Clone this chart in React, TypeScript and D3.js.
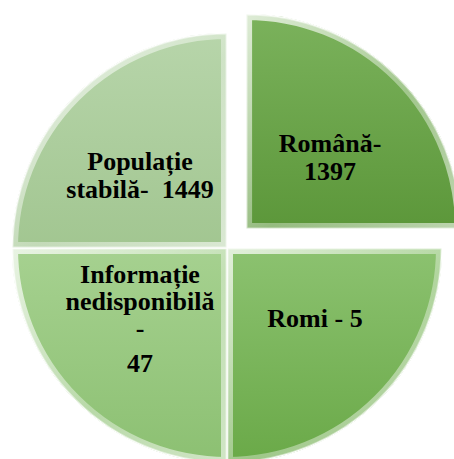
import React from "react";
import * as d3 from "d3";

// data
const labels = ["Română", "Romi", "Informație nedisponibilă", "Populație stabilă"];
const values = [1397, 5, 47, 1449];
const labelLines = [
  ["Română-", "1397"],
  ["Romi - 5"],
  ["Informație", "nedisponibilă", "-", "47"],
  ["Populație", "stabilă-\u00a0 1449"],
];

// look
const fills = [
  ["#7bb25c", "#5c973a"],
  ["#8cc270", "#6aa948"],
  ["#a6d190", "#8cc072"],
  ["#b7d5aa", "#a2c691"],
];
const explode = [27, 0, 0, 0];
const labelNudge = [
  [8, 4],
  [12, -6],
  [-11, -10],
  [-11, 3],
];
const lineGap = [28, 0, 27, 28];
const FONT = "Liberation Serif";

const W = 454;
const H = 459;
const R = 215;
const cx = 227;
const cy = 248;

const App = () => {
  const rows = labels.map((l, i) => ({ label: l, value: values[i], i }));
  // the original draws four equal quadrants, the values only live in the labels
  const pie = d3
    .pie<any>()
    .sort(null)
    .value(() => 1);
  const arcs = pie(rows);
  const arc = d3.arc<any>().innerRadius(0).outerRadius(R);

  return (
    <svg
      width={W}
      height={H}
      fontFamily={FONT}
      style={{ position: "absolute", left: 0, top: 0, background: "#ffffff", fontFamily: FONT }}
    >
      <defs>
        {arcs.map((a, i) => (
          <linearGradient key={"f" + i} id={"fill" + i} x1={0} y1={0} x2={0} y2={1}>
            <stop offset="0%" stopColor={fills[i][0]} />
            <stop offset="100%" stopColor={fills[i][1]} />
          </linearGradient>
        ))}
        {arcs.map((a, i) => (
          <clipPath key={"c" + i} id={"clip" + i}>
            <path d={arc(a) as string} />
          </clipPath>
        ))}
        <linearGradient id="bevel" x1={0} y1={0} x2={1} y2={1}>
          <stop offset="0%" stopColor="#ffffff" stopOpacity={0.75} />
          <stop offset="55%" stopColor="#ffffff" stopOpacity={0.35} />
          <stop offset="100%" stopColor="#ffffff" stopOpacity={0.6} />
        </linearGradient>
      </defs>
      {arcs.map((d, i) => {
        const mid = (d.startAngle + d.endAngle) / 2;
        const dx = cx + Math.sin(mid) * explode[i];
        const dy = cy - Math.cos(mid) * explode[i];
        const p = arc(d) as string;
        return (
          <g key={d.data.label} transform={"translate(" + dx + "," + dy + ")"}>
            <path d={p} fill={"url(#fill" + i + ")"} stroke="#ffffff" strokeWidth={1} />
            {/* bevel edge */}
            <path d={p} fill="none" clipPath={"url(#clip" + i + ")"} stroke="url(#bevel)" strokeWidth={12} />
            <path
              d={p}
              fill="none"
              clipPath={"url(#clip" + i + ")"}
              stroke="#ffffff"
              strokeOpacity={0.5}
              strokeWidth={3}
            />
          </g>
        );
      })}
      {arcs.map((d, i) => {
        const mid = (d.startAngle + d.endAngle) / 2;
        const dx = cx + Math.sin(mid) * explode[i];
        const dy = cy - Math.cos(mid) * explode[i];
        const [x, y] = arc.centroid(d);
        const lines = labelLines[i];
        const top = dy + y + labelNudge[i][1] - ((lines.length - 1) * lineGap[i]) / 2 + 9;
        return lines.map((ln, k) => (
          <text
            key={i + "-" + k}
            x={dx + x + labelNudge[i][0]}
            y={top + k * lineGap[i] + (i === 2 && k === 3 ? 8 : 0)}
            fontFamily={FONT}
            fontWeight="bold"
            fontSize={26}
            fill="#000000"
            textAnchor="middle"
          >
            {ln}
          </text>
        ));
      })}
    </svg>
  );
};

export default App;
